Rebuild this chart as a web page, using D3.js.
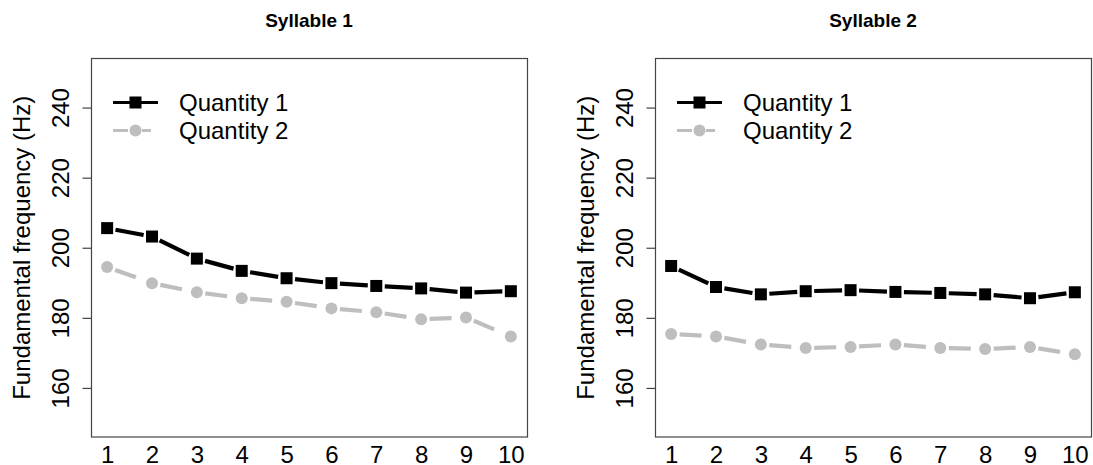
<!DOCTYPE html>
<html>
<head>
<meta charset="utf-8">
<script src="https://cdn.jsdelivr.net/npm/d3@7"></script>
<style>
	body { margin: 0; background: #fff; }
	svg text { font-family: "Liberation Sans", Arial, sans-serif; fill: #000; }
</style>
</head>
<body>
<div id="chart"></div>
<script>
//Data
var positions = [1, 2, 3, 4, 5, 6, 7, 8, 9, 10];
var panelTitles = ["Syllable 1", "Syllable 2"];
var seriesNames = ["Quantity 1", "Quantity 2"];
var yTicks = [160, 180, 200, 220, 240];
var syllable1Quantity1 = [205.6, 203.2, 196.9, 193.4, 191.3, 189.9, 189.1, 188.4, 187.2, 187.6];
var syllable1Quantity2 = [194.5, 189.9, 187.3, 185.6, 184.6, 182.7, 181.6, 179.6, 180.1, 174.7];
var syllable2Quantity1 = [194.8, 188.8, 186.7, 187.6, 187.9, 187.4, 187.1, 186.7, 185.6, 187.3];
var syllable2Quantity2 = [175.4, 174.7, 172.4, 171.4, 171.7, 172.4, 171.4, 171.1, 171.7, 169.6];

var panels = [
	{title: panelTitles[0], series: [syllable1Quantity1, syllable1Quantity2]},
	{title: panelTitles[1], series: [syllable2Quantity1, syllable2Quantity2]}
];

//Sizing
var width = 1093, height = 465;
var boxLefts = [91, 655];
var boxWidth = 436;
var boxTop = 58.5, boxBottom = 437;
var fontSize = '24px';

//Line styles for the two series (black squares, grey dashed circles)
var styles = [
	{color: "#000000", dash: null, marker: "square"},
	{color: "#bebebe", dash: "22,12", marker: "circle"}
];
var gap = 8.5; //gap left around each point, like R type="b"

var svg = d3.select('#chart').append('svg')
	.attr('width', width)
	.attr('height', height);

panels.forEach(function(panel, p) {
	var left = boxLefts[p];
	var right = left + boxWidth;

	var x = d3.scaleLinear().domain([0.64, 10.36]).range([left, right]);
	var y = d3.scaleLinear().domain([146, 254]).range([boxBottom, boxTop]);

	var g = svg.append('g').attr('class', 'panel');

	//Title
	g.append('text')
		.attr('x', (left + right) / 2)
		.attr('y', 27)
		.attr('text-anchor', 'middle')
		.style('font-size', '19px')
		.style('font-weight', 'bold')
		.text(panel.title);

	//Box
	g.append('rect')
		.attr('x', left + 0.5)
		.attr('y', boxTop)
		.attr('width', boxWidth)
		.attr('height', boxBottom - boxTop)
		.attr('fill', 'none')
		.attr('stroke', '#444')
		.attr('stroke-width', 1.2);

	//Y axis (ticks outside, labels parallel to axis)
	var yAxis = g.append('g')
		.attr('transform', 'translate(' + (left + 0.5) + ',0)')
		.call(d3.axisLeft(y).tickValues(yTicks).tickSize(9).tickPadding(0));
	yAxis.select('.domain').remove();
	yAxis.selectAll('line').attr('stroke', '#444').attr('stroke-width', 1.2);
	yAxis.selectAll('text')
		.attr('x', null).attr('dy', null)
		.attr('text-anchor', 'middle')
		.attr('transform', 'translate(-23,0) rotate(-90)')
		.style('font-size', fontSize)
		.style('font-family', '"Liberation Sans", Arial, sans-serif');

	//X axis labels only (no tick marks)
	var xAxis = g.append('g')
		.attr('transform', 'translate(0,' + boxBottom + ')')
		.call(d3.axisBottom(x).tickValues(positions).tickSize(0).tickFormat(d3.format('d')));
	xAxis.select('.domain').remove();
	xAxis.selectAll('text')
		.attr('y', 25.5).attr('dy', null)
		.style('font-size', fontSize)
		.style('font-family', '"Liberation Sans", Arial, sans-serif');

	//Y axis title
	g.append('text')
		.attr('transform', 'translate(' + (left - 61) + ',' + y(200) + ') rotate(-90)')
		.attr('text-anchor', 'middle')
		.style('font-size', fontSize)
		.text('Fundamental frequency (Hz)');

	//Series: segments with gaps around the points, then the points
	panel.series.forEach(function(values, s) {
		var st = styles[s];
		var pts = values.map(function(v, i) { return [x(positions[i]), y(v)]; });
		var segs = d3.pairs(pts).map(function(pr) {
			var dx = pr[1][0] - pr[0][0], dy = pr[1][1] - pr[0][1];
			var len = Math.sqrt(dx * dx + dy * dy);
			var ux = dx / len, uy = dy / len;
			return [pr[0][0] + ux * gap, pr[0][1] + uy * gap, pr[1][0] - ux * gap, pr[1][1] - uy * gap];
		});
		g.append('g').selectAll('line')
			.data(segs)
			.enter().append('line')
				.attr('x1', function(d) { return d[0]; })
				.attr('y1', function(d) { return d[1]; })
				.attr('x2', function(d) { return d[2]; })
				.attr('y2', function(d) { return d[3]; })
				.attr('stroke', st.color)
				.attr('stroke-width', 4.2)
				.attr('stroke-dasharray', st.dash);
		drawMarkers(g, pts, st);
	});

	//Legend (top left, no frame)
	var legend = g.append('g')
		.attr('class', 'legend')
		.attr('transform', 'translate(' + left + ',' + boxTop + ')');
	seriesNames.forEach(function(name, s) {
		var st = styles[s];
		var ly = 44 + s * 28;
		legend.append('line')
			.attr('x1', 22).attr('x2', s === 0 ? 67 : 60)
			.attr('y1', ly).attr('y2', ly)
			.attr('stroke', st.color)
			.attr('stroke-width', 3.2)
			.attr('stroke-dasharray', s === 0 ? null : '15,14');
		drawMarkers(legend, [[44.5, ly]], st);
		legend.append('text')
			.attr('x', 88)
			.attr('y', ly + 8.5)
			.style('font-size', fontSize)
			.text(name);
	});
});

function drawMarkers(parent, pts, st) {
	if (st.marker === 'square') {
		parent.append('g').selectAll('rect')
			.data(pts)
			.enter().append('rect')
				.attr('x', function(d) { return d[0] - 6; })
				.attr('y', function(d) { return d[1] - 6; })
				.attr('width', 12)
				.attr('height', 12)
				.attr('fill', st.color);
	}
	else {
		parent.append('g').selectAll('circle')
			.data(pts)
			.enter().append('circle')
				.attr('cx', function(d) { return d[0]; })
				.attr('cy', function(d) { return d[1]; })
				.attr('r', 6)
				.attr('fill', st.color);
	}
}
</script>
</body>
</html>
